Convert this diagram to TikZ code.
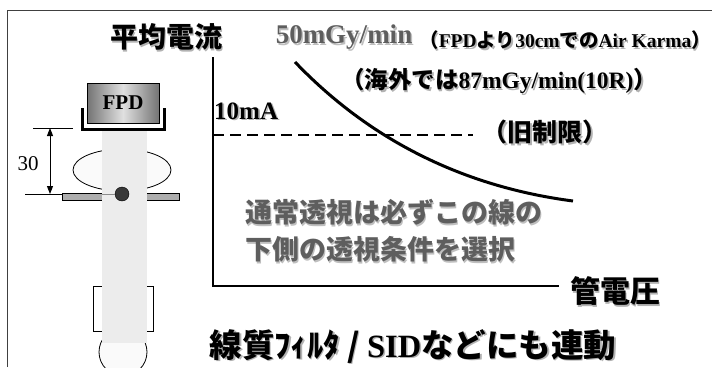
\documentclass[tikz,border=0pt]{standalone}
\usepackage{fontspec}
\setmainfont{Liberation Serif}
\newfontfamily\jp{Noto Sans CJK JP}[BoldFont={Noto Sans CJK JP Black}]
\usetikzlibrary{arrows.meta}
% text with a soft drop shadow below right
\newcommand\dropsh[2][black!30]{\leavevmode\rlap{\kern1.6pt\raisebox{-1.6pt}{\textcolor{#1}{#2}}}#2}
\newcommand\fs[1]{\fontsize{#1}{#1}\selectfont}
\definecolor{beamgray}{HTML}{ECECEC}
\definecolor{softgray}{HTML}{5E5E5E}
\begin{document}
\begin{tikzpicture}[x=1pt,y=-1pt,
  frame/.style={draw=black!75,line width=0.8pt},
  thinline/.style={draw=black,line width=0.8pt},
  axis/.style={line width=2.8pt,line cap=rect},
  limit/.style={line width=2.2pt,dash pattern=on 11pt off 6pt},
  jpbold/.style={font=\jp\bfseries,inner sep=0pt},
  serbold/.style={font=\bfseries,inner sep=0pt},
  fpdbox/.style={draw=black,line width=0.8pt,left color=black!55,right color=black!55,middle color=black!12,
    minimum width=72pt,minimum height=40pt,inner sep=0pt,font=\bfseries\fs{21}},
  dimarrow/.style={line width=1pt,{Triangle[length=8pt,width=6pt]}-{Triangle[length=8pt,width=6pt]}}]
\useasboundingbox (0,0) rectangle (712,367);

% outer frame (top and left edges)
\draw[frame] (7,367) -- (7,10) -- (712,10);

% ---- fluoroscopy geometry sketch ----
\filldraw[thinline,fill=black!32] (62,193) rectangle (179,200);
\draw[thinline,fill=black!2] (122,170) ellipse [x radius=49pt,y radius=21pt];
\draw[thinline,fill=black!2] (123,352) circle [radius=24pt];
\draw[thinline,fill=white] (93,286) rectangle (153,331);
\fill[beamgray] (102,129) rectangle (147,343);

\coordinate (dimtop) at (50,128);
\coordinate (dimbot) at (50,194);
\draw[thinline] (33,128) -- (73,128);
\draw[thinline] (25,194) -- (62,194);
\draw[dimarrow] (dimtop) -- (dimbot);
\node[inner sep=0pt,font=\fs{21}] (dim) at (28,164) {30};

\node[circle,draw=black,fill=black!78,minimum size=14pt,inner sep=0pt] (dot) at (122,194) {};
\coordinate (beamleft) at (102,194);
\draw[draw=black!45,line width=0.8pt] (beamleft) -- (dot.west);

\node[fpdbox] (fpd) at (123,103) {FPD};
\draw[line width=3pt] (82,108) |- (164,129) -- (164,108);

% ---- dose rate limit chart ----
\coordinate (ytop) at (213,58);
\coordinate (orig) at (213,286);
\coordinate (xend) at (558,286);
\draw[axis] (ytop) -- (orig) -- (xend);

\coordinate (limA) at (213,135);
\coordinate (limB) at (473,135);
\draw[limit] (limA) -- (limB);

\coordinate (cvA) at (295,62);
\coordinate (cvB) at (573,201);
\draw[line width=3pt] (cvA) .. controls (360,130) and (450,185) .. (cvB);

% ---- labels ----
\node[jpbold,font=\jp\bfseries\fs{28}] (ylab) at (166,38) {\dropsh{平均電流}};
\node[serbold,font=\bfseries\fs{27},text=softgray] (rate) at (344,38) {\dropsh[black!25]{50mGy/min}};
\node[serbold,font=\bfseries\fs{19.5}] (note) at (565,41)
  {\dropsh{{\jp （}FPD{\jp より}30cm{\jp での}Air Karma{\jp ）}}};
\node[serbold,font=\bfseries\fs{23.5}] (abroad) at (499,82)
  {\dropsh{{\jp （海外では}87mGy/min(10R){\jp ）}}};
\node[serbold,font=\bfseries\fs{25},anchor=west] (ma) at (214,112) {\dropsh{10mA}};
\node[jpbold,font=\jp\bfseries\fs{25}] (old) at (545,133) {\dropsh{（旧制限）}};
\node[jpbold,font=\jp\bfseries\fs{27},text=softgray,anchor=west] (rule1) at (245,213) {\dropsh[black!25]{通常透視は必ずこの線の}};
\node[jpbold,font=\jp\bfseries\fs{27},text=softgray,anchor=west] (rule2) at (245,250) {\dropsh[black!25]{下側の透視条件を選択}};
\node[jpbold,font=\jp\bfseries\fs{30}] (xlab) at (615,292) {\dropsh{管電圧}};
\node[serbold,font=\bfseries\fs{32.5}] (link) at (413,347)
  {\dropsh{{\jp 線質ﾌｨﾙﾀ / }SID{\jp などにも連動}}};
\end{tikzpicture}
\end{document}
